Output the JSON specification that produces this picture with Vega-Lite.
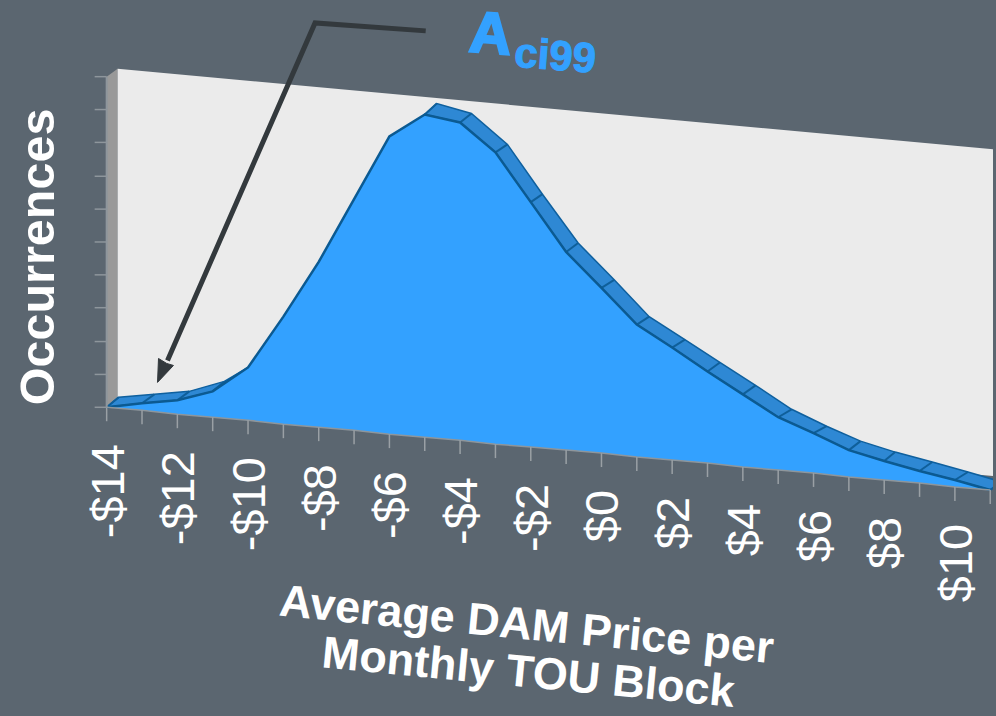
{"$schema":"https://vega.github.io/schema/vega-lite/v6.json","width":996,"height":716,"padding":0,"autosize":{"type":"fit","contains":"padding"},"background":"#5B6670","config":{"view":{"stroke":null}},
"datasets":{
"curve":[{"price":-14,"front":0,"base":0},{"price":-13,"front":4,"base":-3},{"price":-12,"front":7,"base":-7},{"price":-11,"front":16,"base":-10},{"price":-10,"front":40,"base":-13},{"price":-9,"front":91,"base":-17},{"price":-8,"front":146,"base":-20},{"price":-7,"front":209,"base":-23},{"price":-6,"front":272,"base":-27},{"price":-5,"front":294,"base":-30},{"price":-4,"front":286,"base":-33},{"price":-3,"front":256,"base":-37},{"price":-2,"front":206,"base":-40},{"price":-1,"front":156,"base":-43},{"price":0,"front":120,"base":-46},{"price":1,"front":83,"base":-50},{"price":2,"front":60,"base":-53},{"price":3,"front":36,"base":-56},{"price":4,"front":13,"base":-60},{"price":5,"front":-10,"base":-63},{"price":6,"front":-26,"base":-66},{"price":7,"front":-43,"base":-70},{"price":8,"front":-54,"base":-73},{"price":9,"front":-64,"base":-76},{"price":10,"front":-73,"base":-80},{"price":11,"front":-83,"base":-83}],
"depth":[{"band":"L","price":-14,"front":0,"backPrice":-13.66,"back":10},{"band":"L","price":-13,"front":4,"backPrice":-12.65,"back":13},{"band":"L","price":-12,"front":7,"backPrice":-11.66,"back":16},{"band":"L","price":-11,"front":16,"backPrice":-10.67,"back":26},{"band":"R","price":-5,"front":294,"backPrice":-4.66,"back":305},{"band":"R","price":-4,"front":286,"backPrice":-3.68,"back":295},{"band":"R","price":-3,"front":256,"backPrice":-2.66,"back":264},{"band":"R","price":-2,"front":206,"backPrice":-1.67,"back":214},{"band":"R","price":-1,"front":156,"backPrice":-0.66,"back":165},{"band":"R","price":0,"front":120,"backPrice":0.36,"back":128},{"band":"R","price":1,"front":83,"backPrice":1.35,"back":91},{"band":"R","price":2,"front":60,"backPrice":2.36,"back":68},{"band":"R","price":3,"front":36,"backPrice":3.35,"back":45},{"band":"R","price":4,"front":13,"backPrice":4.36,"back":22},{"band":"R","price":5,"front":-10,"backPrice":5.38,"back":-2},{"band":"R","price":6,"front":-26,"backPrice":6.37,"back":-19},{"band":"R","price":7,"front":-43,"backPrice":7.33,"back":-34},{"band":"R","price":8,"front":-54,"backPrice":8.31,"back":-45},{"band":"R","price":9,"front":-64,"backPrice":9.36,"back":-55},{"band":"R","price":10,"front":-73,"backPrice":10.37,"back":-65},{"band":"R","price":11,"front":-83,"backPrice":11.33,"back":-75}],
"bandShape":[{"band":"L","n":1,"x":-14,"y":0},{"band":"L","n":2,"x":-13,"y":4},{"band":"L","n":3,"x":-12,"y":7},{"band":"L","n":4,"x":-11,"y":16},{"band":"L","n":5,"x":-10,"y":40},{"band":"L","n":6,"x":-10.67,"y":26},{"band":"L","n":7,"x":-11.66,"y":16},{"band":"L","n":8,"x":-12.65,"y":13},{"band":"L","n":9,"x":-13.66,"y":10},{"band":"L","n":10,"x":-14,"y":0},
{"band":"R","n":1,"x":-5,"y":294},{"band":"R","n":2,"x":-4,"y":286},{"band":"R","n":3,"x":-3,"y":256},{"band":"R","n":4,"x":-2,"y":206},{"band":"R","n":5,"x":-1,"y":156},{"band":"R","n":6,"x":0,"y":120},{"band":"R","n":7,"x":1,"y":83},{"band":"R","n":8,"x":2,"y":60},{"band":"R","n":9,"x":3,"y":36},{"band":"R","n":10,"x":4,"y":13},{"band":"R","n":11,"x":5,"y":-10},{"band":"R","n":12,"x":6,"y":-26},{"band":"R","n":13,"x":7,"y":-43},{"band":"R","n":14,"x":8,"y":-54},{"band":"R","n":15,"x":9,"y":-64},{"band":"R","n":16,"x":10,"y":-73},{"band":"R","n":17,"x":11,"y":-83},{"band":"R","n":18,"x":11.33,"y":-75},{"band":"R","n":19,"x":10.37,"y":-65},{"band":"R","n":20,"x":9.36,"y":-55},{"band":"R","n":21,"x":8.31,"y":-45},{"band":"R","n":22,"x":7.33,"y":-34},{"band":"R","n":23,"x":6.37,"y":-19},{"band":"R","n":24,"x":5.38,"y":-2},{"band":"R","n":25,"x":4.36,"y":22},{"band":"R","n":26,"x":3.35,"y":45},{"band":"R","n":27,"x":2.36,"y":68},{"band":"R","n":28,"x":1.35,"y":91},{"band":"R","n":29,"x":0.36,"y":128},{"band":"R","n":30,"x":-0.66,"y":165},{"band":"R","n":31,"x":-1.67,"y":214},{"band":"R","n":32,"x":-2.66,"y":264},{"band":"R","n":33,"x":-3.68,"y":295},{"band":"R","n":34,"x":-4.66,"y":305},{"band":"R","n":35,"x":-5,"y":294}],
"yticks":[{"v":0},{"v":33},{"v":66},{"v":100},{"v":133},{"v":166},{"v":199},{"v":232},{"v":266},{"v":299},{"v":332}],
"xlabels":[{"price":-14,"label":"-$14","y":-37},{"price":-12,"label":"-$12","y":-44},{"price":-10,"label":"-$10","y":-50},{"price":-8,"label":"-$8","y":-57},{"price":-6,"label":"-$6","y":-64},{"price":-4,"label":"-$4","y":-70},{"price":-2,"label":"-$2","y":-77},{"price":0,"label":"$0","y":-83},{"price":2,"label":"$2","y":-90},{"price":4,"label":"$4","y":-97},{"price":6,"label":"$6","y":-103},{"price":8,"label":"$8","y":-110},{"price":10,"label":"$10","y":-117}],
"arrowLine":[{"n":1,"x":-4.973,"y":378},{"n":2,"x":-8.104,"y":386},{"n":3,"x":-12.279,"y":47}],
"arrowHead":[{"n":1,"x":-12.561,"y":25},{"n":2,"x":-12.533,"y":49},{"n":3,"x":-12.3,"y":44},{"n":4,"x":-12.11,"y":42},{"n":5,"x":-12.561,"y":25}]
},
"layer":[
{"data":{"values":[{"x":-14,"top":332,"bottom":0},{"x":-13.69,"top":340,"bottom":10}]},"mark":{"type":"area","color":"#999999"},"encoding":{"x":{"field":"x","type":"quantitative","scale":{"domain":[-17.018,11.078],"nice":false,"zero":false},"axis":null},"y":{"field":"top","type":"quantitative","scale":{"domain":[-307,409],"nice":false,"zero":false},"axis":null},"y2":{"field":"bottom"}}},
{"data":{"values":[{"x":-13.69,"top":340,"bottom":10},{"x":11.078,"top":259,"bottom":-69}]},"mark":{"type":"area","color":"#EBEBEB"},"encoding":{"x":{"field":"x","type":"quantitative"},"y":{"field":"top","type":"quantitative"},"y2":{"field":"bottom"}}},
{"data":{"name":"bandShape"},"mark":{"type":"line","fill":"#2E88D4","stroke":"#0F609E","strokeWidth":1.5,"clip":true},"encoding":{"x":{"field":"x","type":"quantitative"},"y":{"field":"y","type":"quantitative"},"detail":{"field":"band"},"order":{"field":"n"}}},
{"data":{"name":"curve"},"mark":{"type":"area","color":"#33A1FF"},"encoding":{"x":{"field":"price","type":"quantitative"},"y":{"field":"front","type":"quantitative"},"y2":{"field":"base"}}},
{"data":{"name":"depth"},"mark":{"type":"rule","stroke":"#0F5F9A","strokeWidth":2,"clip":true},"encoding":{"x":{"field":"price","type":"quantitative"},"x2":{"field":"backPrice"},"y":{"field":"front","type":"quantitative"},"y2":{"field":"back"}}},
{"data":{"name":"curve"},"mark":{"type":"line","stroke":"#0B5A92","strokeWidth":2.5},"encoding":{"x":{"field":"price","type":"quantitative"},"y":{"field":"front","type":"quantitative"}}},
{"data":{"name":"curve"},"mark":{"type":"line","stroke":"#8E969C","strokeWidth":1.5},"encoding":{"x":{"field":"price","type":"quantitative"},"y":{"field":"base","type":"quantitative"}}},
{"data":{"name":"curve"},"transform":[{"calculate":"datum.base-14","as":"tickEnd"}],"mark":{"type":"rule","stroke":"#9AA0A5","strokeWidth":1.5},"encoding":{"x":{"field":"price","type":"quantitative"},"y":{"field":"base","type":"quantitative"},"y2":{"field":"tickEnd"}}},
{"data":{"name":"yticks"},"transform":[{"calculate":"-14.34","as":"tickStart"},{"calculate":"-14","as":"tickEnd"}],"mark":{"type":"rule","stroke":"#8E969C","strokeWidth":1.5},"encoding":{"x":{"field":"tickStart","type":"quantitative"},"x2":{"field":"tickEnd"},"y":{"field":"v","type":"quantitative"}}},
{"data":{"values":[{"x":-14,"y":0,"y2":332}]},"mark":{"type":"rule","stroke":"#8E969C","strokeWidth":2},"encoding":{"x":{"field":"x","type":"quantitative"},"y":{"field":"y","type":"quantitative"},"y2":{"field":"y2"}}},
{"data":{"name":"xlabels"},"mark":{"type":"text","font":"Liberation Sans","fontSize":47,"fill":"#FFFFFF","angle":270,"align":"right","baseline":"middle","xOffset":3},"encoding":{"x":{"field":"price","type":"quantitative"},"y":{"field":"y","type":"quantitative"},"text":{"field":"label"}}},
{"data":{"values":[{"x":-2.12,"y":-219,"t":"Average DAM Price per"},{"x":-2.07,"y":-267,"t":"Monthly TOU Block"}]},"mark":{"type":"text","font":"Liberation Sans","fontWeight":"bold","fontSize":45,"fill":"#FFFFFF","angle":5.5,"align":"center","baseline":"middle"},"encoding":{"x":{"field":"x","type":"quantitative"},"y":{"field":"y","type":"quantitative"},"text":{"field":"t"}}},
{"data":{"values":[{"x":-15.91,"y":151,"t":"Occurrences"}]},"mark":{"type":"text","font":"Liberation Sans","fontWeight":"bold","fontSize":48.5,"fill":"#FFFFFF","angle":270,"align":"center","baseline":"middle"},"encoding":{"x":{"field":"x","type":"quantitative"},"y":{"field":"y","type":"quantitative"},"text":{"field":"t"}}},
{"data":{"values":[{"x":-3.14,"y":373,"t":"A"}]},"mark":{"type":"text","font":"Liberation Sans","fontWeight":"bold","fontSize":58,"fill":"#33A1FF","stroke":"#33A1FF","strokeWidth":2.5,"angle":4.5,"align":"center","baseline":"middle"},"encoding":{"x":{"field":"x","type":"quantitative"},"y":{"field":"y","type":"quantitative"},"text":{"field":"t"}}},
{"data":{"values":[{"x":-1.31,"y":352,"t":"ci99"}]},"mark":{"type":"text","font":"Liberation Sans","fontWeight":"bold","fontSize":42,"fill":"#33A1FF","stroke":"#33A1FF","strokeWidth":1,"angle":4.5,"align":"center","baseline":"middle"},"encoding":{"x":{"field":"x","type":"quantitative"},"y":{"field":"y","type":"quantitative"},"text":{"field":"t"}}},
{"data":{"name":"arrowLine"},"mark":{"type":"line","stroke":"#33393D","strokeWidth":5},"encoding":{"x":{"field":"x","type":"quantitative"},"y":{"field":"y","type":"quantitative"},"order":{"field":"n"}}},
{"data":{"name":"arrowHead"},"mark":{"type":"line","fill":"#33393D","stroke":"#33393D","strokeWidth":1},"encoding":{"x":{"field":"x","type":"quantitative"},"y":{"field":"y","type":"quantitative"},"order":{"field":"n"}}}
]}
